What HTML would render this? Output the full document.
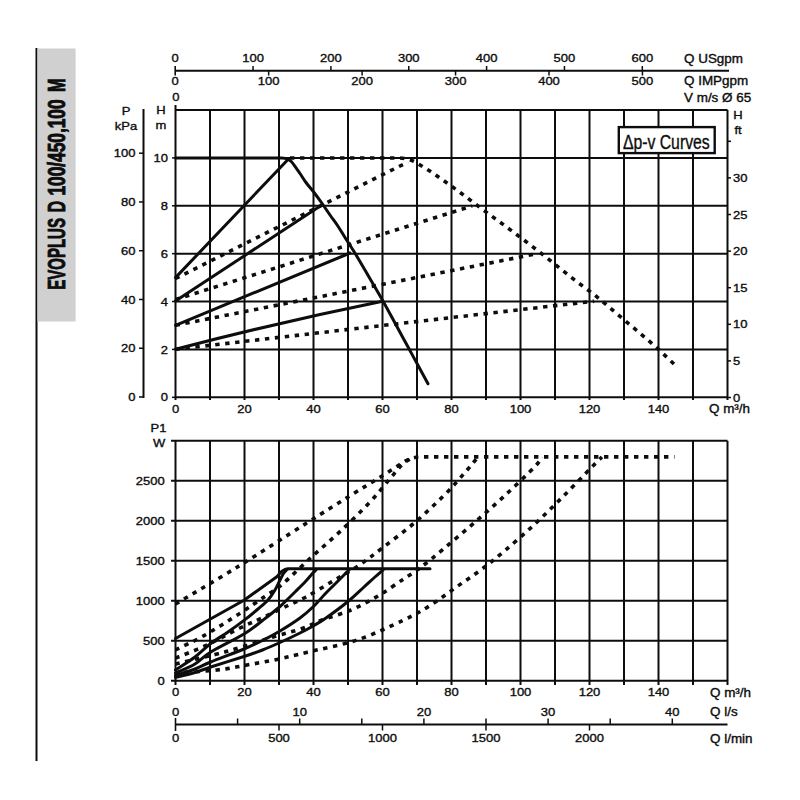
<!DOCTYPE html>
<html><head><meta charset="utf-8"><style>
html,body{margin:0;padding:0;background:#fff;}
svg{display:block;}
text{font-family:"Liberation Sans",sans-serif;fill:#0d0d0d;stroke:#0d0d0d;stroke-width:0.35px;}
</style></head><body>
<svg width="800" height="800" viewBox="0 0 800 800">
<rect width="800" height="800" fill="#fff"/>
<line x1="36.50" y1="48.00" x2="36.50" y2="761.00" stroke="#0d0d0d" stroke-width="2.0" />
<rect x="37.4" y="48.5" width="38.2" height="273" fill="#d0d0d0"/>
<text transform="translate(65,289.8) rotate(-90)" font-size="24.5" font-weight="bold" style="stroke-width:0.9px" textLength="71.8" lengthAdjust="spacingAndGlyphs">EVOPLUS</text>
<text transform="translate(65,212.2) rotate(-90)" font-size="24.5" font-weight="bold" style="stroke-width:0.9px" textLength="11.4" lengthAdjust="spacingAndGlyphs">D</text>
<text transform="translate(65,195.6) rotate(-90)" font-size="24.5" font-weight="bold" style="stroke-width:0.9px" textLength="96.2" lengthAdjust="spacingAndGlyphs">100/450,100</text>
<text transform="translate(65,92) rotate(-90)" font-size="24.5" font-weight="bold" style="stroke-width:0.9px" textLength="13.6" lengthAdjust="spacingAndGlyphs">M</text>
<line x1="175.20" y1="70.80" x2="729.00" y2="70.80" stroke="#0d0d0d" stroke-width="2.0" />
<line x1="175.20" y1="66.00" x2="175.20" y2="75.50" stroke="#0d0d0d" stroke-width="1.6" />
<text transform="translate(175.20,61.50) scale(1.13,1)" text-anchor="middle" font-size="11.5" font-weight="normal" >0</text>
<line x1="253.05" y1="66.00" x2="253.05" y2="70.80" stroke="#0d0d0d" stroke-width="1.5" />
<text transform="translate(253.05,61.50) scale(1.13,1)" text-anchor="middle" font-size="11.5" font-weight="normal" >100</text>
<line x1="330.90" y1="66.00" x2="330.90" y2="70.80" stroke="#0d0d0d" stroke-width="1.5" />
<text transform="translate(330.90,61.50) scale(1.13,1)" text-anchor="middle" font-size="11.5" font-weight="normal" >200</text>
<line x1="408.75" y1="66.00" x2="408.75" y2="70.80" stroke="#0d0d0d" stroke-width="1.5" />
<text transform="translate(408.75,61.50) scale(1.13,1)" text-anchor="middle" font-size="11.5" font-weight="normal" >300</text>
<line x1="486.60" y1="66.00" x2="486.60" y2="70.80" stroke="#0d0d0d" stroke-width="1.5" />
<text transform="translate(486.60,61.50) scale(1.13,1)" text-anchor="middle" font-size="11.5" font-weight="normal" >400</text>
<line x1="564.45" y1="66.00" x2="564.45" y2="70.80" stroke="#0d0d0d" stroke-width="1.5" />
<text transform="translate(564.45,61.50) scale(1.13,1)" text-anchor="middle" font-size="11.5" font-weight="normal" >500</text>
<line x1="642.30" y1="66.00" x2="642.30" y2="70.80" stroke="#0d0d0d" stroke-width="1.5" />
<text transform="translate(642.30,61.50) scale(1.13,1)" text-anchor="middle" font-size="11.5" font-weight="normal" >600</text>
<text transform="translate(175.20,84.60) scale(1.13,1)" text-anchor="middle" font-size="11.5" font-weight="normal" >0</text>
<line x1="268.65" y1="70.80" x2="268.65" y2="75.50" stroke="#0d0d0d" stroke-width="1.5" />
<text transform="translate(268.65,84.60) scale(1.13,1)" text-anchor="middle" font-size="11.5" font-weight="normal" >100</text>
<line x1="362.10" y1="70.80" x2="362.10" y2="75.50" stroke="#0d0d0d" stroke-width="1.5" />
<text transform="translate(362.10,84.60) scale(1.13,1)" text-anchor="middle" font-size="11.5" font-weight="normal" >200</text>
<line x1="455.55" y1="70.80" x2="455.55" y2="75.50" stroke="#0d0d0d" stroke-width="1.5" />
<text transform="translate(455.55,84.60) scale(1.13,1)" text-anchor="middle" font-size="11.5" font-weight="normal" >300</text>
<line x1="549.00" y1="70.80" x2="549.00" y2="75.50" stroke="#0d0d0d" stroke-width="1.5" />
<text transform="translate(549.00,84.60) scale(1.13,1)" text-anchor="middle" font-size="11.5" font-weight="normal" >400</text>
<line x1="642.45" y1="70.80" x2="642.45" y2="75.50" stroke="#0d0d0d" stroke-width="1.5" />
<text transform="translate(642.45,84.60) scale(1.13,1)" text-anchor="middle" font-size="11.5" font-weight="normal" >500</text>
<text transform="translate(175.80,101.20) scale(1.13,1)" text-anchor="middle" font-size="11.5" font-weight="normal" >0</text>
<text transform="translate(684.00,63.00) scale(1.12,1)" text-anchor="start" font-size="12" font-weight="normal" >Q USgpm</text>
<text transform="translate(684.00,85.00) scale(1.12,1)" text-anchor="start" font-size="12" font-weight="normal" >Q IMPgpm</text>
<text transform="translate(684.00,101.50) scale(1.12,1)" text-anchor="start" font-size="12" font-weight="normal" >V m/s Ø 65</text>
<line x1="175.50" y1="105.00" x2="175.50" y2="400.00" stroke="#0d0d0d" stroke-width="2.0" />
<line x1="210.00" y1="110.00" x2="210.00" y2="400.00" stroke="#0d0d0d" stroke-width="2.0" />
<line x1="244.50" y1="110.00" x2="244.50" y2="400.00" stroke="#0d0d0d" stroke-width="2.0" />
<line x1="279.00" y1="110.00" x2="279.00" y2="400.00" stroke="#0d0d0d" stroke-width="2.0" />
<line x1="313.50" y1="110.00" x2="313.50" y2="400.00" stroke="#0d0d0d" stroke-width="2.0" />
<line x1="348.00" y1="110.00" x2="348.00" y2="400.00" stroke="#0d0d0d" stroke-width="2.0" />
<line x1="382.50" y1="110.00" x2="382.50" y2="400.00" stroke="#0d0d0d" stroke-width="2.0" />
<line x1="417.00" y1="110.00" x2="417.00" y2="400.00" stroke="#0d0d0d" stroke-width="2.0" />
<line x1="451.50" y1="110.00" x2="451.50" y2="400.00" stroke="#0d0d0d" stroke-width="2.0" />
<line x1="486.00" y1="110.00" x2="486.00" y2="400.00" stroke="#0d0d0d" stroke-width="2.0" />
<line x1="520.50" y1="110.00" x2="520.50" y2="400.00" stroke="#0d0d0d" stroke-width="2.0" />
<line x1="555.00" y1="110.00" x2="555.00" y2="400.00" stroke="#0d0d0d" stroke-width="2.0" />
<line x1="589.50" y1="110.00" x2="589.50" y2="400.00" stroke="#0d0d0d" stroke-width="2.0" />
<line x1="624.00" y1="110.00" x2="624.00" y2="400.00" stroke="#0d0d0d" stroke-width="2.0" />
<line x1="658.50" y1="110.00" x2="658.50" y2="400.00" stroke="#0d0d0d" stroke-width="2.0" />
<line x1="693.00" y1="110.00" x2="693.00" y2="400.00" stroke="#0d0d0d" stroke-width="2.0" />
<line x1="727.50" y1="110.00" x2="727.50" y2="400.00" stroke="#0d0d0d" stroke-width="2.0" />
<line x1="175.50" y1="397.30" x2="727.50" y2="397.30" stroke="#0d0d0d" stroke-width="2.0" />
<line x1="175.50" y1="349.42" x2="727.50" y2="349.42" stroke="#0d0d0d" stroke-width="2.0" />
<line x1="175.50" y1="301.54" x2="727.50" y2="301.54" stroke="#0d0d0d" stroke-width="2.0" />
<line x1="175.50" y1="253.66" x2="727.50" y2="253.66" stroke="#0d0d0d" stroke-width="2.0" />
<line x1="175.50" y1="205.78" x2="727.50" y2="205.78" stroke="#0d0d0d" stroke-width="2.0" />
<line x1="175.50" y1="157.90" x2="727.50" y2="157.90" stroke="#0d0d0d" stroke-width="2.0" />
<line x1="175.50" y1="110.02" x2="727.50" y2="110.02" stroke="#0d0d0d" stroke-width="2.0" />
<line x1="143.50" y1="109.00" x2="143.50" y2="398.00" stroke="#0d0d0d" stroke-width="2.0" />
<line x1="139.00" y1="397.00" x2="143.50" y2="397.00" stroke="#0d0d0d" stroke-width="1.5" />
<text transform="translate(135.50,401.10) scale(1.13,1)" text-anchor="end" font-size="11.5" font-weight="normal" >0</text>
<line x1="139.00" y1="348.24" x2="143.50" y2="348.24" stroke="#0d0d0d" stroke-width="1.5" />
<text transform="translate(135.50,352.34) scale(1.13,1)" text-anchor="end" font-size="11.5" font-weight="normal" >20</text>
<line x1="139.00" y1="299.48" x2="143.50" y2="299.48" stroke="#0d0d0d" stroke-width="1.5" />
<text transform="translate(135.50,303.58) scale(1.13,1)" text-anchor="end" font-size="11.5" font-weight="normal" >40</text>
<line x1="139.00" y1="250.72" x2="143.50" y2="250.72" stroke="#0d0d0d" stroke-width="1.5" />
<text transform="translate(135.50,254.82) scale(1.13,1)" text-anchor="end" font-size="11.5" font-weight="normal" >60</text>
<line x1="139.00" y1="201.96" x2="143.50" y2="201.96" stroke="#0d0d0d" stroke-width="1.5" />
<text transform="translate(135.50,206.06) scale(1.13,1)" text-anchor="end" font-size="11.5" font-weight="normal" >80</text>
<line x1="139.00" y1="153.20" x2="143.50" y2="153.20" stroke="#0d0d0d" stroke-width="1.5" />
<text transform="translate(135.50,157.30) scale(1.13,1)" text-anchor="end" font-size="11.5" font-weight="normal" >100</text>
<text transform="translate(126.00,114.50) scale(1.13,1)" text-anchor="middle" font-size="11.5" font-weight="normal" >P</text>
<text transform="translate(126.00,129.50) scale(1.13,1)" text-anchor="middle" font-size="11.5" font-weight="normal" >kPa</text>
<text transform="translate(161.00,114.00) scale(1.13,1)" text-anchor="middle" font-size="11.5" font-weight="normal" >H</text>
<text transform="translate(161.00,128.60) scale(1.13,1)" text-anchor="middle" font-size="11.5" font-weight="normal" >m</text>
<line x1="172.00" y1="397.30" x2="175.50" y2="397.30" stroke="#0d0d0d" stroke-width="1.5" />
<text transform="translate(168.00,401.40) scale(1.13,1)" text-anchor="end" font-size="11.5" font-weight="normal" >0</text>
<line x1="172.00" y1="349.42" x2="175.50" y2="349.42" stroke="#0d0d0d" stroke-width="1.5" />
<text transform="translate(168.00,353.52) scale(1.13,1)" text-anchor="end" font-size="11.5" font-weight="normal" >2</text>
<line x1="172.00" y1="301.54" x2="175.50" y2="301.54" stroke="#0d0d0d" stroke-width="1.5" />
<text transform="translate(168.00,305.64) scale(1.13,1)" text-anchor="end" font-size="11.5" font-weight="normal" >4</text>
<line x1="172.00" y1="253.66" x2="175.50" y2="253.66" stroke="#0d0d0d" stroke-width="1.5" />
<text transform="translate(168.00,257.76) scale(1.13,1)" text-anchor="end" font-size="11.5" font-weight="normal" >6</text>
<line x1="172.00" y1="205.78" x2="175.50" y2="205.78" stroke="#0d0d0d" stroke-width="1.5" />
<text transform="translate(168.00,209.88) scale(1.13,1)" text-anchor="end" font-size="11.5" font-weight="normal" >8</text>
<line x1="172.00" y1="157.90" x2="175.50" y2="157.90" stroke="#0d0d0d" stroke-width="1.5" />
<text transform="translate(168.00,162.00) scale(1.13,1)" text-anchor="end" font-size="11.5" font-weight="normal" >10</text>
<line x1="727.50" y1="397.50" x2="731.00" y2="397.50" stroke="#0d0d0d" stroke-width="1.5" />
<text transform="translate(733.00,401.60) scale(1.13,1)" text-anchor="start" font-size="11.5" font-weight="normal" >0</text>
<line x1="727.50" y1="360.90" x2="731.00" y2="360.90" stroke="#0d0d0d" stroke-width="1.5" />
<text transform="translate(733.00,365.00) scale(1.13,1)" text-anchor="start" font-size="11.5" font-weight="normal" >5</text>
<line x1="727.50" y1="324.30" x2="731.00" y2="324.30" stroke="#0d0d0d" stroke-width="1.5" />
<text transform="translate(733.00,328.40) scale(1.13,1)" text-anchor="start" font-size="11.5" font-weight="normal" >10</text>
<line x1="727.50" y1="287.70" x2="731.00" y2="287.70" stroke="#0d0d0d" stroke-width="1.5" />
<text transform="translate(733.00,291.80) scale(1.13,1)" text-anchor="start" font-size="11.5" font-weight="normal" >15</text>
<line x1="727.50" y1="251.10" x2="731.00" y2="251.10" stroke="#0d0d0d" stroke-width="1.5" />
<text transform="translate(733.00,255.20) scale(1.13,1)" text-anchor="start" font-size="11.5" font-weight="normal" >20</text>
<line x1="727.50" y1="214.50" x2="731.00" y2="214.50" stroke="#0d0d0d" stroke-width="1.5" />
<text transform="translate(733.00,218.60) scale(1.13,1)" text-anchor="start" font-size="11.5" font-weight="normal" >25</text>
<line x1="727.50" y1="177.90" x2="731.00" y2="177.90" stroke="#0d0d0d" stroke-width="1.5" />
<text transform="translate(733.00,182.00) scale(1.13,1)" text-anchor="start" font-size="11.5" font-weight="normal" >30</text>
<line x1="727.50" y1="141.30" x2="731.00" y2="141.30" stroke="#0d0d0d" stroke-width="1.5" />
<text transform="translate(738.00,119.00) scale(1.13,1)" text-anchor="middle" font-size="11.5" font-weight="normal" >H</text>
<text transform="translate(738.00,134.00) scale(1.13,1)" text-anchor="middle" font-size="11.5" font-weight="normal" >ft</text>
<text transform="translate(175.50,413.00) scale(1.13,1)" text-anchor="middle" font-size="11.5" font-weight="normal" >0</text>
<text transform="translate(244.50,413.00) scale(1.13,1)" text-anchor="middle" font-size="11.5" font-weight="normal" >20</text>
<text transform="translate(313.50,413.00) scale(1.13,1)" text-anchor="middle" font-size="11.5" font-weight="normal" >40</text>
<text transform="translate(382.50,413.00) scale(1.13,1)" text-anchor="middle" font-size="11.5" font-weight="normal" >60</text>
<text transform="translate(451.50,413.00) scale(1.13,1)" text-anchor="middle" font-size="11.5" font-weight="normal" >80</text>
<text transform="translate(520.50,413.00) scale(1.13,1)" text-anchor="middle" font-size="11.5" font-weight="normal" >100</text>
<text transform="translate(589.50,413.00) scale(1.13,1)" text-anchor="middle" font-size="11.5" font-weight="normal" >120</text>
<text transform="translate(658.50,413.00) scale(1.13,1)" text-anchor="middle" font-size="11.5" font-weight="normal" >140</text>
<text transform="translate(709.00,413.00) scale(1.12,1)" text-anchor="start" font-size="12" font-weight="normal" >Q m³/h</text>
<path d="M175.5,158 L280,158 C286,157.5 290,159 293,163.5 C294.17,165.17 297.83,170.33 300.00,173.50 C302.17,176.67 303.75,179.46 306.00,182.50 C308.25,185.54 310.88,188.33 313.50,191.75 C316.12,195.17 319.00,199.12 321.75,203.00 C324.50,206.88 327.38,211.25 330.00,215.00 C332.62,218.75 335.00,221.75 337.50,225.50 C340.00,229.25 342.62,233.75 345.00,237.50 C347.38,241.25 349.75,244.83 351.75,248.00 C353.75,251.17 354.12,251.67 357.00,256.50 C359.88,261.33 364.58,269.43 369.00,277.00 C373.42,284.57 379.17,294.23 383.50,301.90 C387.83,309.57 391.25,316.10 395.00,323.00 C398.75,329.90 402.33,336.55 406.00,343.30 C409.67,350.05 413.33,356.77 417.00,363.50 C420.67,370.23 426.17,380.33 428.00,383.70" fill="none" stroke="#0d0d0d" stroke-width="3" stroke-linejoin="round" stroke-linecap="round"/>
<path d="M175.5,277.6 L288,159.5" fill="none" stroke="#0d0d0d" stroke-width="3" stroke-linejoin="round" stroke-linecap="round"/>
<path d="M175.5,301 L321,205.5" fill="none" stroke="#0d0d0d" stroke-width="3" stroke-linejoin="round" stroke-linecap="round"/>
<path d="M175.5,325.3 L350,253" fill="none" stroke="#0d0d0d" stroke-width="3" stroke-linejoin="round" stroke-linecap="round"/>
<path d="M175.5,349.2 Q280,322 382.5,301.2" fill="none" stroke="#0d0d0d" stroke-width="3" stroke-linejoin="round" stroke-linecap="round"/>
<path d="M290,158 L398,158 Q408,158 416,162.5 L431.7,172.2 L448.7,184.2 L465.2,196.2 L481.5,208.7 L498,220.7 L514.2,232.7 L530.7,245.2 L546.4,257.5 L562.2,270.2 L578.2,282.7 L594.7,295 L609.8,307.7 L625.7,321.2 L641.3,334.3 L656.3,347.2 L674.5,364.5" fill="none" stroke="#0d0d0d" stroke-width="3.6" stroke-dasharray="4.4 5.6" stroke-linejoin="round"/>
<path d="M175.5,278.5 L408,162" fill="none" stroke="#0d0d0d" stroke-width="3.6" stroke-dasharray="4.4 5.6" stroke-linejoin="round"/>
<path d="M175.5,299.5 L472,206" fill="none" stroke="#0d0d0d" stroke-width="3.6" stroke-dasharray="4.4 5.6" stroke-linejoin="round"/>
<path d="M175.5,325.3 L538,253.5" fill="none" stroke="#0d0d0d" stroke-width="3.6" stroke-dasharray="4.4 5.6" stroke-linejoin="round"/>
<path d="M175.5,349.3 L594,301.2" fill="none" stroke="#0d0d0d" stroke-width="3.6" stroke-dasharray="4.4 5.6" stroke-linejoin="round"/>
<rect x="618.8" y="127.1" width="95.9" height="26" fill="#fff" stroke="#0d0d0d" stroke-width="2.4"/>
<text x="622.9" y="149.3" font-size="20" textLength="86.8" lengthAdjust="spacingAndGlyphs">Δp-v Curves</text>
<line x1="175.50" y1="440.80" x2="175.50" y2="685.00" stroke="#0d0d0d" stroke-width="2.0" />
<line x1="210.00" y1="440.80" x2="210.00" y2="685.00" stroke="#0d0d0d" stroke-width="2.0" />
<line x1="244.50" y1="440.80" x2="244.50" y2="685.00" stroke="#0d0d0d" stroke-width="2.0" />
<line x1="279.00" y1="440.80" x2="279.00" y2="685.00" stroke="#0d0d0d" stroke-width="2.0" />
<line x1="313.50" y1="440.80" x2="313.50" y2="685.00" stroke="#0d0d0d" stroke-width="2.0" />
<line x1="348.00" y1="440.80" x2="348.00" y2="685.00" stroke="#0d0d0d" stroke-width="2.0" />
<line x1="382.50" y1="440.80" x2="382.50" y2="685.00" stroke="#0d0d0d" stroke-width="2.0" />
<line x1="417.00" y1="440.80" x2="417.00" y2="685.00" stroke="#0d0d0d" stroke-width="2.0" />
<line x1="451.50" y1="440.80" x2="451.50" y2="685.00" stroke="#0d0d0d" stroke-width="2.0" />
<line x1="486.00" y1="440.80" x2="486.00" y2="685.00" stroke="#0d0d0d" stroke-width="2.0" />
<line x1="520.50" y1="440.80" x2="520.50" y2="685.00" stroke="#0d0d0d" stroke-width="2.0" />
<line x1="555.00" y1="440.80" x2="555.00" y2="685.00" stroke="#0d0d0d" stroke-width="2.0" />
<line x1="589.50" y1="440.80" x2="589.50" y2="685.00" stroke="#0d0d0d" stroke-width="2.0" />
<line x1="624.00" y1="440.80" x2="624.00" y2="685.00" stroke="#0d0d0d" stroke-width="2.0" />
<line x1="658.50" y1="440.80" x2="658.50" y2="685.00" stroke="#0d0d0d" stroke-width="2.0" />
<line x1="693.00" y1="440.80" x2="693.00" y2="685.00" stroke="#0d0d0d" stroke-width="2.0" />
<line x1="727.50" y1="440.80" x2="727.50" y2="685.00" stroke="#0d0d0d" stroke-width="2.0" />
<line x1="171.00" y1="440.80" x2="727.50" y2="440.80" stroke="#0d0d0d" stroke-width="2.0" />
<line x1="171.00" y1="480.80" x2="727.50" y2="480.80" stroke="#0d0d0d" stroke-width="2.0" />
<line x1="171.00" y1="520.80" x2="727.50" y2="520.80" stroke="#0d0d0d" stroke-width="2.0" />
<line x1="171.00" y1="560.80" x2="727.50" y2="560.80" stroke="#0d0d0d" stroke-width="2.0" />
<line x1="171.00" y1="600.80" x2="727.50" y2="600.80" stroke="#0d0d0d" stroke-width="2.0" />
<line x1="171.00" y1="640.80" x2="727.50" y2="640.80" stroke="#0d0d0d" stroke-width="2.0" />
<line x1="171.00" y1="680.80" x2="727.50" y2="680.80" stroke="#0d0d0d" stroke-width="2.0" />
<text transform="translate(164.70,684.90) scale(1.13,1)" text-anchor="end" font-size="11.5" font-weight="normal" >0</text>
<text transform="translate(164.70,644.90) scale(1.13,1)" text-anchor="end" font-size="11.5" font-weight="normal" >500</text>
<text transform="translate(164.70,604.90) scale(1.13,1)" text-anchor="end" font-size="11.5" font-weight="normal" >1000</text>
<text transform="translate(164.70,564.90) scale(1.13,1)" text-anchor="end" font-size="11.5" font-weight="normal" >1500</text>
<text transform="translate(164.70,524.90) scale(1.13,1)" text-anchor="end" font-size="11.5" font-weight="normal" >2000</text>
<text transform="translate(164.70,484.90) scale(1.13,1)" text-anchor="end" font-size="11.5" font-weight="normal" >2500</text>
<text transform="translate(158.50,431.70) scale(1.13,1)" text-anchor="middle" font-size="11.5" font-weight="normal" >P1</text>
<text transform="translate(159.00,446.70) scale(1.13,1)" text-anchor="middle" font-size="11.5" font-weight="normal" >W</text>
<text transform="translate(175.50,695.60) scale(1.13,1)" text-anchor="middle" font-size="11.5" font-weight="normal" >0</text>
<text transform="translate(244.50,695.60) scale(1.13,1)" text-anchor="middle" font-size="11.5" font-weight="normal" >20</text>
<text transform="translate(313.50,695.60) scale(1.13,1)" text-anchor="middle" font-size="11.5" font-weight="normal" >40</text>
<text transform="translate(382.50,695.60) scale(1.13,1)" text-anchor="middle" font-size="11.5" font-weight="normal" >60</text>
<text transform="translate(451.50,695.60) scale(1.13,1)" text-anchor="middle" font-size="11.5" font-weight="normal" >80</text>
<text transform="translate(520.50,695.60) scale(1.13,1)" text-anchor="middle" font-size="11.5" font-weight="normal" >100</text>
<text transform="translate(589.50,695.60) scale(1.13,1)" text-anchor="middle" font-size="11.5" font-weight="normal" >120</text>
<text transform="translate(658.50,695.60) scale(1.13,1)" text-anchor="middle" font-size="11.5" font-weight="normal" >140</text>
<text transform="translate(710.00,697.00) scale(1.12,1)" text-anchor="start" font-size="12" font-weight="normal" >Q m³/h</text>
<line x1="175.50" y1="724.60" x2="727.50" y2="724.60" stroke="#0d0d0d" stroke-width="2.0" />
<line x1="175.50" y1="718.00" x2="175.50" y2="731.00" stroke="#0d0d0d" stroke-width="1.6" />
<line x1="237.60" y1="718.50" x2="237.60" y2="724.60" stroke="#0d0d0d" stroke-width="1.5" />
<line x1="299.70" y1="718.50" x2="299.70" y2="724.60" stroke="#0d0d0d" stroke-width="1.5" />
<line x1="361.80" y1="718.50" x2="361.80" y2="724.60" stroke="#0d0d0d" stroke-width="1.5" />
<line x1="423.90" y1="718.50" x2="423.90" y2="724.60" stroke="#0d0d0d" stroke-width="1.5" />
<line x1="486.00" y1="718.50" x2="486.00" y2="724.60" stroke="#0d0d0d" stroke-width="1.5" />
<line x1="548.10" y1="718.50" x2="548.10" y2="724.60" stroke="#0d0d0d" stroke-width="1.5" />
<line x1="610.20" y1="718.50" x2="610.20" y2="724.60" stroke="#0d0d0d" stroke-width="1.5" />
<line x1="672.30" y1="718.50" x2="672.30" y2="724.60" stroke="#0d0d0d" stroke-width="1.5" />
<text transform="translate(175.50,716.00) scale(1.13,1)" text-anchor="middle" font-size="11.5" font-weight="normal" >0</text>
<text transform="translate(299.70,716.00) scale(1.13,1)" text-anchor="middle" font-size="11.5" font-weight="normal" >10</text>
<text transform="translate(423.90,716.00) scale(1.13,1)" text-anchor="middle" font-size="11.5" font-weight="normal" >20</text>
<text transform="translate(548.10,716.00) scale(1.13,1)" text-anchor="middle" font-size="11.5" font-weight="normal" >30</text>
<text transform="translate(672.30,716.00) scale(1.13,1)" text-anchor="middle" font-size="11.5" font-weight="normal" >40</text>
<line x1="279.00" y1="724.60" x2="279.00" y2="730.50" stroke="#0d0d0d" stroke-width="1.5" />
<line x1="382.50" y1="724.60" x2="382.50" y2="730.50" stroke="#0d0d0d" stroke-width="1.5" />
<line x1="486.00" y1="724.60" x2="486.00" y2="730.50" stroke="#0d0d0d" stroke-width="1.5" />
<line x1="589.50" y1="724.60" x2="589.50" y2="730.50" stroke="#0d0d0d" stroke-width="1.5" />
<text transform="translate(175.50,742.20) scale(1.13,1)" text-anchor="middle" font-size="11.5" font-weight="normal" >0</text>
<text transform="translate(279.00,742.20) scale(1.13,1)" text-anchor="middle" font-size="11.5" font-weight="normal" >500</text>
<text transform="translate(382.50,742.20) scale(1.13,1)" text-anchor="middle" font-size="11.5" font-weight="normal" >1000</text>
<text transform="translate(486.00,742.20) scale(1.13,1)" text-anchor="middle" font-size="11.5" font-weight="normal" >1500</text>
<text transform="translate(589.50,742.20) scale(1.13,1)" text-anchor="middle" font-size="11.5" font-weight="normal" >2000</text>
<text transform="translate(710.00,716.20) scale(1.12,1)" text-anchor="start" font-size="12" font-weight="normal" >Q l/s</text>
<text transform="translate(710.00,742.90) scale(1.12,1)" text-anchor="start" font-size="12" font-weight="normal" >Q l/min</text>
<path d="M175.5,638.5 L244,600.3 L276.5,577 C279.5,574.5 281.5,569 288,568.7 L430,568.7" fill="none" stroke="#0d0d0d" stroke-width="3" stroke-linejoin="round" stroke-linecap="round"/>
<path d="M175.50,670.00 C178.75,667.83 189.12,661.42 195.00,657.00 C200.88,652.58 205.25,647.67 210.75,643.50 C216.25,639.33 222.46,635.85 228.00,632.00 C233.54,628.15 239.00,624.23 244.00,620.40 C249.00,616.57 254.00,612.40 258.00,609.00 C262.00,605.60 265.17,603.17 268.00,600.00 C270.83,596.83 273.00,593.33 275.00,590.00 C277.00,586.67 278.58,582.75 280.00,580.00 C281.42,577.25 282.33,575.25 283.50,573.50 C284.67,571.75 286.42,570.17 287.00,569.50" fill="none" stroke="#0d0d0d" stroke-width="3" stroke-linejoin="round" stroke-linecap="round"/>
<path d="M175.50,673.00 C178.75,671.50 189.12,667.50 195.00,664.00 C200.88,660.50 202.58,657.00 210.75,652.00 C218.92,647.00 235.38,639.25 244.00,634.00 C252.62,628.75 256.50,625.08 262.50,620.50 C268.50,615.92 274.42,611.42 280.00,606.50 C285.58,601.58 291.83,595.08 296.00,591.00 C300.17,586.92 302.33,584.83 305.00,582.00 C307.67,579.17 310.17,576.00 312.00,574.00 C313.83,572.00 315.33,570.67 316.00,570.00" fill="none" stroke="#0d0d0d" stroke-width="3" stroke-linejoin="round" stroke-linecap="round"/>
<path d="M175.50,675.50 C178.75,674.42 189.12,671.25 195.00,669.00 C200.88,666.75 202.58,665.33 210.75,662.00 C218.92,658.67 235.38,652.58 244.00,649.00 C252.62,645.42 256.50,643.50 262.50,640.50 C268.50,637.50 273.75,634.75 280.00,631.00 C286.25,627.25 294.33,622.17 300.00,618.00 C305.67,613.83 309.83,610.00 314.00,606.00 C318.17,602.00 321.50,597.67 325.00,594.00 C328.50,590.33 332.00,587.00 335.00,584.00 C338.00,581.00 340.67,578.33 343.00,576.00 C345.33,573.67 348.00,571.00 349.00,570.00" fill="none" stroke="#0d0d0d" stroke-width="3" stroke-linejoin="round" stroke-linecap="round"/>
<path d="M175.50,677.50 C178.75,676.67 189.12,674.25 195.00,672.50 C200.88,670.75 202.58,669.67 210.75,667.00 C218.92,664.33 235.38,659.33 244.00,656.50 C252.62,653.67 256.50,652.33 262.50,650.00 C268.50,647.67 273.75,645.33 280.00,642.50 C286.25,639.67 294.33,635.83 300.00,633.00 C305.67,630.17 309.67,628.00 314.00,625.50 C318.33,623.00 320.33,622.00 326.00,618.00 C331.67,614.00 341.67,606.67 348.00,601.50 C354.33,596.33 359.50,591.08 364.00,587.00 C368.50,582.92 371.83,579.83 375.00,577.00 C378.17,574.17 381.67,571.17 383.00,570.00" fill="none" stroke="#0d0d0d" stroke-width="3" stroke-linejoin="round" stroke-linecap="round"/>
<path d="M175.50,604.00 C185.82,597.83 215.72,580.38 237.40,567.00 C259.08,553.62 286.83,535.57 305.60,523.70 C324.37,511.83 336.98,503.93 350.00,495.80 C363.02,487.67 375.15,480.27 383.70,474.90 C392.25,469.53 398.37,465.48 401.30,463.60 Q410,457 421,456.9 L674.5,456.9" fill="none" stroke="#0d0d0d" stroke-width="3.6" stroke-dasharray="4.4 5.6" stroke-linejoin="round"/>
<path d="M175.50,650.00 C180.25,647.60 193.42,641.60 204.00,635.60 C214.58,629.60 228.92,620.48 239.00,614.00 C249.08,607.52 257.33,601.67 264.50,596.75 C271.67,591.83 274.25,591.04 282.00,584.50 C289.75,577.96 301.17,566.47 311.00,557.50 C320.83,548.53 331.17,539.95 341.00,530.70 C350.83,521.45 361.83,510.67 370.00,502.00 C378.17,493.33 384.72,484.87 390.00,478.70 C395.28,472.53 398.37,468.28 401.70,465.00 C405.03,461.72 408.62,460.00 410.00,459.00" fill="none" stroke="#0d0d0d" stroke-width="3.6" stroke-dasharray="4.4 5.6" stroke-linejoin="round"/>
<path d="M175.50,658.00 C180.42,656.00 194.25,651.00 205.00,646.00 C215.75,641.00 230.50,632.67 240.00,628.00 C249.50,623.33 254.17,621.67 262.00,618.00 C269.83,614.33 279.67,609.50 287.00,606.00 C294.33,602.50 298.50,601.07 306.00,597.00 C313.50,592.93 323.33,586.77 332.00,581.60 C340.67,576.43 349.53,571.67 358.00,566.00 C366.47,560.33 373.34,554.83 382.80,547.60 C392.26,540.37 404.43,531.42 414.75,522.60 C425.07,513.78 436.34,503.03 444.70,494.70 C453.06,486.37 459.35,478.88 464.90,472.60 C470.45,466.32 475.82,459.60 478.00,457.00" fill="none" stroke="#0d0d0d" stroke-width="3.6" stroke-dasharray="4.4 5.6" stroke-linejoin="round"/>
<path d="M175.50,664.00 C182.08,662.42 205.08,657.00 215.00,654.50 C224.92,652.00 225.33,651.92 235.00,649.00 C244.67,646.08 261.67,640.46 273.00,637.00 C284.33,633.54 294.83,631.08 303.00,628.25 C311.17,625.42 314.00,623.04 322.00,620.00 C330.00,616.96 341.67,614.00 351.00,610.00 C360.33,606.00 369.33,601.10 378.00,596.00 C386.67,590.90 396.00,584.07 403.00,579.40 C410.00,574.73 413.17,573.15 420.00,568.00 C426.83,562.85 434.97,556.03 444.00,548.50 C453.03,540.97 463.98,531.70 474.20,522.80 C484.42,513.90 495.25,504.40 505.30,495.10 C515.35,485.80 528.38,473.35 534.50,467.00 C540.62,460.65 540.75,458.67 542.00,457.00" fill="none" stroke="#0d0d0d" stroke-width="3.6" stroke-dasharray="4.4 5.6" stroke-linejoin="round"/>
<path d="M175.50,673.00 C182.42,672.50 205.08,671.33 217.00,670.00 C228.92,668.67 237.00,666.77 247.00,665.00 C257.00,663.23 267.08,661.50 277.00,659.40 C286.92,657.30 293.17,655.63 306.50,652.40 C319.83,649.17 340.92,645.33 357.00,640.00 C373.08,634.67 390.83,626.13 403.00,620.40 C415.17,614.67 421.33,611.00 430.00,605.60 C438.67,600.20 446.67,593.85 455.00,588.00 C463.33,582.15 471.83,576.60 480.00,570.50 C488.17,564.40 494.92,559.08 504.00,551.40 C513.08,543.72 524.54,533.67 534.50,524.40 C544.46,515.13 554.18,505.37 563.75,495.80 C573.32,486.23 585.52,473.47 591.90,467.00 C598.27,460.53 600.32,458.67 602.00,457.00" fill="none" stroke="#0d0d0d" stroke-width="3.6" stroke-dasharray="4.4 5.6" stroke-linejoin="round"/>
</svg>
</body></html>
